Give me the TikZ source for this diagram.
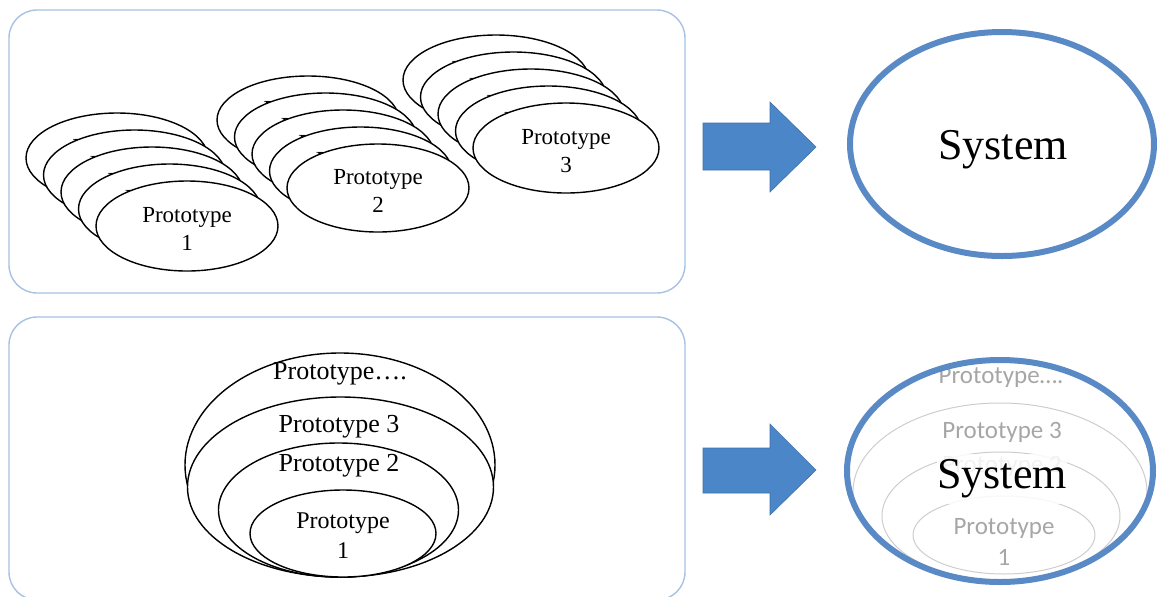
\documentclass[tikz,border=0pt]{standalone}
\usepackage{fontspec}
\setmainfont{Liberation Serif}
\newfontfamily\ghostfont{Carlito}
\usetikzlibrary{shapes.geometric}

\definecolor{panelline}{HTML}{A7C2E2}
\definecolor{arrowblue}{HTML}{4A86C8}
\definecolor{sysblue}{HTML}{5A8AC6}
\definecolor{ghostline}{HTML}{CDCDCD}
\definecolor{ghosttext}{HTML}{A6A6A6}

\tikzset{
  panel/.style={draw=panelline, line width=0.7pt, fill=white, rounded corners=14pt},
  proto/.style={ellipse, draw=black, line width=0.7pt, fill=white, inner sep=0pt},
  protolabel/.style={inner sep=0pt, align=center, font=\fontsize{11.5}{14}\selectfont},
  nest/.style={ellipse, draw=black, line width=0.7pt, fill=white, inner sep=0pt},
  nestlabel/.style={inner sep=0pt, align=center, font=\fontsize{13}{15}\selectfont},
  bigarrow/.style={fill=arrowblue, draw=arrowblue!85!black, line width=0.3pt},
  system/.style={ellipse, draw=sysblue, line width=3pt, inner sep=0pt},
  systext/.style={inner sep=1pt, font=\fontsize{22}{26}\selectfont},
  ghost/.style={ellipse, draw=ghostline, line width=0.5pt, inner sep=0pt},
  ghostlabel/.style={text=ghosttext, inner sep=0pt, align=center,
                     font=\ghostfont\fontsize{12.5}{15.5}\selectfont},
}

\begin{document}
\begin{tikzpicture}[x=0.5pt, y=-0.5pt]
\useasboundingbox (0,0) rectangle (1158,596);

% panels
\draw[panel] (9,10) rectangle (685,293);
\draw[panel] (9,317) rectangle (685,600);

% upper panel: three stacks of prototypes, drawn back to front
\foreach \k in {4,3,2,1,0} {
  \node[proto, minimum width=91pt, minimum height=45pt] (pa-\k)
    at ({187-17.5*\k},{226-17*\k}) {};
  \node[protolabel, yshift=-1.5pt] (pa-\k-label) at (pa-\k.center) {Prototype\\1};
}
\foreach \k in {4,3,2,1,0} {
  \node[proto, minimum width=91pt, minimum height=44pt] (pb-\k)
    at ({378-17.5*\k},{188-17*\k}) {};
  \node[protolabel, yshift=-1.5pt] (pb-\k-label) at (pb-\k.center) {Prototype\\2};
}
\foreach \k in {4,3,2,1,0} {
  \node[proto, minimum width=93pt, minimum height=45pt] (pc-\k)
    at ({566-17.5*\k},{148-17*\k}) {};
  \node[protolabel, yshift=-1.5pt] (pc-\k-label) at (pc-\k.center) {Prototype\\3};
}

% lower panel: nested prototypes
\node[nest, minimum width=155pt, minimum height=112pt] (nall) at (340,465) {};
\node[nest, minimum width=153pt, minimum height=90pt]  (nthree) at (340.5,487) {};
\node[nest, minimum width=120pt, minimum height=67pt]  (ntwo) at (338.5,510) {};
\node[nest, minimum width=93pt,  minimum height=43.5pt] (none) at (343,533.5) {};
\node[nestlabel] (lall) at (340,374) {Prototype….};
\node[nestlabel] (lthree) at (339,427) {Prototype 3};
\node[nestlabel] (ltwo) at (339,466) {Prototype 2};
\node[nestlabel, font=\fontsize{12}{15}\selectfont] (lone) at (343,536) {Prototype\\1};

% block arrows
\draw[bigarrow] (703,123) -- (770,123) -- (770,102) -- (816,147)
  -- (770,192) -- (770,170) -- (703,170) -- cycle;
\draw[bigarrow] (703,448) -- (770,448) -- (770,424) -- (816,470)
  -- (770,515) -- (770,493) -- (703,493) -- cycle;

% upper system
\node[system, minimum width=152pt, minimum height=112pt] (sysA) at (1002,144) {};
\node[systext] (sysA-label) at (1003,150) {System};

% lower system with the faded prototypes inside
\node[ghost, minimum width=147pt, minimum height=89pt] (gthree) at (1000,492) {};
\node[ghost, minimum width=119pt, minimum height=64pt] (gtwo) at (1001,516) {};
\node[ghost, minimum width=91pt,  minimum height=39pt] (gone) at (1004,535) {};
\node[ghostlabel] (glall) at (1001,377) {Prototype….};
\node[ghostlabel] (glthree) at (1002,432) {Prototype 3};
\node[ghostlabel] (gltwo) at (1002,466) {Prototype 2};
\node[ghostlabel] (glone) at (1004,542) {Prototype\\1};
\node[system, minimum width=153pt, minimum height=111pt] (sysB) at (1000,471) {};
\node[systext, fill=white, fill opacity=0.85, text opacity=1,
      inner xsep=0pt, inner ysep=3pt] (sysB-label) at (1002,479) {System};
\end{tikzpicture}
\end{document}
